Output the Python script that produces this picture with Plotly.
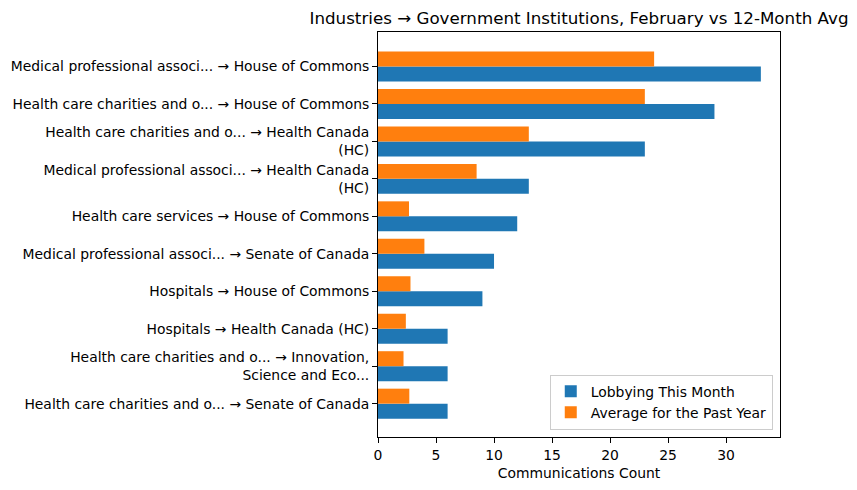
import plotly.graph_objects as go

labels = [
    "Medical professional associ... → House of Commons",
    "Health care charities and o... → House of Commons",
    "Health care charities and o... → Health Canada<br>(HC)",
    "Medical professional associ... → Health Canada<br>(HC)",
    "Health care services → House of Commons",
    "Medical professional associ... → Senate of Canada",
    "Hospitals → House of Commons",
    "Hospitals → Health Canada (HC)",
    "Health care charities and o... → Innovation,<br>Science and Eco...",
    "Health care charities and o... → Senate of Canada",
]
this_month = [33, 29, 23, 13, 12, 10, 9, 6, 6, 6]
past_year_avg = [23.8, 23.0, 13.0, 8.5, 2.67, 4.0, 2.8, 2.4, 2.2, 2.7]
x_ticks = [0, 5, 10, 15, 20, 25, 30]

FONT = "DejaVu Sans"
fig = go.Figure()
fig.add_trace(go.Bar(
    y=labels, x=this_month, orientation="h", name="Lobbying This Month",
    marker=dict(color="#1f77b4", line=dict(width=0)), width=0.4, offset=0,
))
fig.add_trace(go.Bar(
    y=labels, x=past_year_avg, orientation="h", name="Average for the Past Year",
    marker=dict(color="#ff7f0e", line=dict(width=0)), width=0.4, offset=-0.4,
))

n = len(labels)
xmax = max(this_month + past_year_avg) * 1.05
fig.update_layout(
    width=857, height=490,
    margin=dict(l=378, r=77, t=32, b=53),
    paper_bgcolor="white", plot_bgcolor="white",
    barmode="overlay",
    font=dict(family=FONT, size=13.9, color="black"),
    title=dict(text="Industries → Government Institutions, February vs 12-Month Avg",
               x=(378 + 780) / 2 / 857, xanchor="center", y=1 - 18 / 490, yanchor="middle",
               font=dict(size=16.7, family=FONT, color="black")),
    showlegend=True,
    legend=dict(x=0.982, y=0.018, xanchor="right", yanchor="bottom",
                bgcolor="rgba(255,255,255,0.8)", bordercolor="#cccccc", borderwidth=1,
                font=dict(size=13.9, family=FONT), traceorder="normal"),
    xaxis=dict(range=[0, xmax], tickvals=x_ticks, showgrid=False, zeroline=False,
               showline=True, mirror=True, linecolor="black", linewidth=1,
               ticks="outside", ticklen=5, tickcolor="black",
               title=dict(text="Communications Count", font=dict(size=13.9, family=FONT), standoff=6)),
    yaxis=dict(type="category", categoryorder="array", categoryarray=labels,
               range=[n - 1 + 0.89, -0.92], showgrid=False, zeroline=False,
               showline=True, mirror=True, linecolor="black", linewidth=1,
               ticks="outside", ticklen=5, tickcolor="black"),
)
fig.write_html("out.html")
